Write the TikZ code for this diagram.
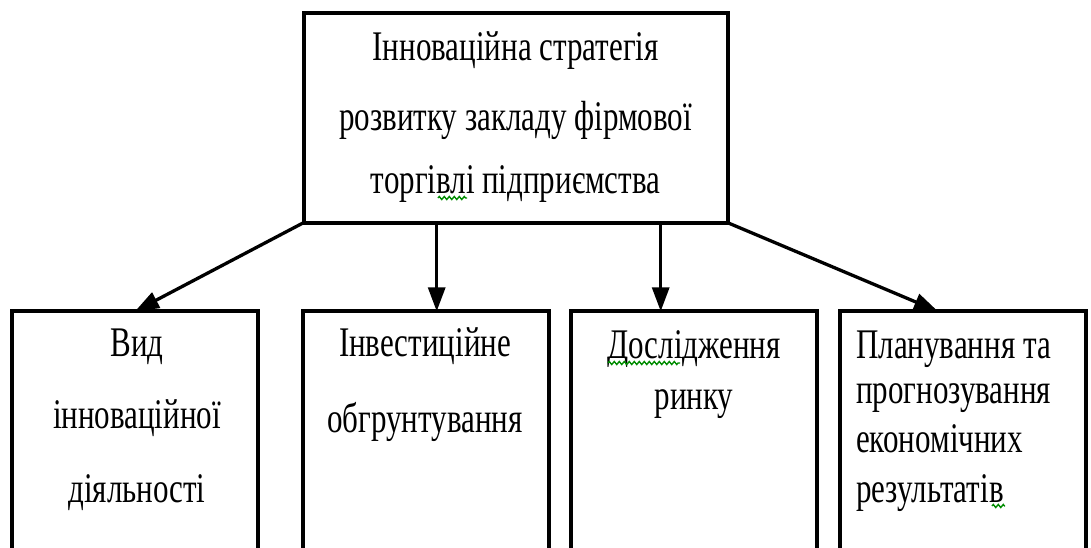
\documentclass[tikz,border=0pt]{standalone}
\usepackage{fontspec}
\setmainfont{Liberation Serif}
\usetikzlibrary{arrows.meta,calc,decorations.pathmorphing}
\newcommand\stretchtxt[1]{\scalebox{1}[1.36]{#1}}
\begin{document}
\begin{tikzpicture}[x=1pt,y=-1pt,
  box/.style={draw=black, line width=4pt, inner sep=0pt, outer sep=0pt, minimum width=246pt, minimum height=268.7pt},
  ln/.style={inner sep=0pt, font=\fontsize{31}{36}\selectfont},
  arr/.style={line width=3.3pt, -{Triangle[length=24pt,width=17pt]}},
  spell/.style={draw=green!55!black, line width=1.4pt, decorate, decoration={zigzag, amplitude=1.5pt, segment length=5pt}}]
\fill[white] (0,0) rectangle (1091,547);
\useasboundingbox (0,0) rectangle (1091,547);
\begin{scope}
\clip (0,0) rectangle (1091,547);
% boxes
\node[box, minimum width=424.2pt, minimum height=209.4pt] (top) at (515.6,118) {};
\node[box] (b1) at (135,445.65) {};
\node[box] (b2) at (426.15,445.65) {};
\node[box] (b3) at (694,445.65) {};
\node[box] (b4) at (962.5,445.65) {};
\end{scope}
% top text
\node[ln, anchor=base] (t1) at (515.6,60) {\stretchtxt{Інноваційна стратегія}};
\node[ln, anchor=base] (t2) at (515.6,130) {\stretchtxt{розвитку закладу фірмової}};
\node[ln, anchor=base] (t3) at (515.6,193.3) {\stretchtxt{торгівлі підприємства}};
% box 1
\node[ln, anchor=base] (b1a) at (137,356.7) {\stretchtxt{Вид}};
\node[ln, anchor=base] (b1b) at (137,428.3) {\stretchtxt{інноваційної}};
\node[ln, anchor=base] (b1c) at (137,502.7) {\stretchtxt{діяльності}};
% box 2
\node[ln, anchor=base] (b2a) at (425,356.7) {\stretchtxt{Інвестиційне}};
\node[ln, anchor=base] (b2b) at (425,432) {\stretchtxt{обгрунтування}};
% box 3
\node[ln, anchor=base] (b3a) at (694,358) {\stretchtxt{Дослідження}};
\node[ln, anchor=base] (b3b) at (694,409.3) {\stretchtxt{ринку}};
% box 4
\node[ln, anchor=base west] (b4a) at (856,358.3) {\stretchtxt{Планування та}};
\node[ln, anchor=base west] (b4b) at (856,403.3) {\stretchtxt{прогнозування}};
\node[ln, anchor=base west] (b4c) at (856,452.7) {\stretchtxt{економічних}};
\node[ln, anchor=base west] (b4d) at (856,502.7) {\stretchtxt{результатів}};
% spelling marks
\draw[spell] (438,198) -- (467,198);
\draw[spell] (608,363) -- (680,363);
\draw[spell] (992,506) -- (1005,506);
% connectors
\path (top.south west) ++(133.2,0) coordinate (s2);
\path (top.south west) ++(357.2,0) coordinate (s3);
\draw[arr] (top.south west) -- (b1.north);
\draw[arr] (s2) -- (s2 |- b2.north);
\draw[arr] (s3) -- (s3 |- b3.north);
\draw[arr] (top.south east) -- ($(b4.north west)!0.4!(b4.north east)$);
\end{tikzpicture}
\end{document}
